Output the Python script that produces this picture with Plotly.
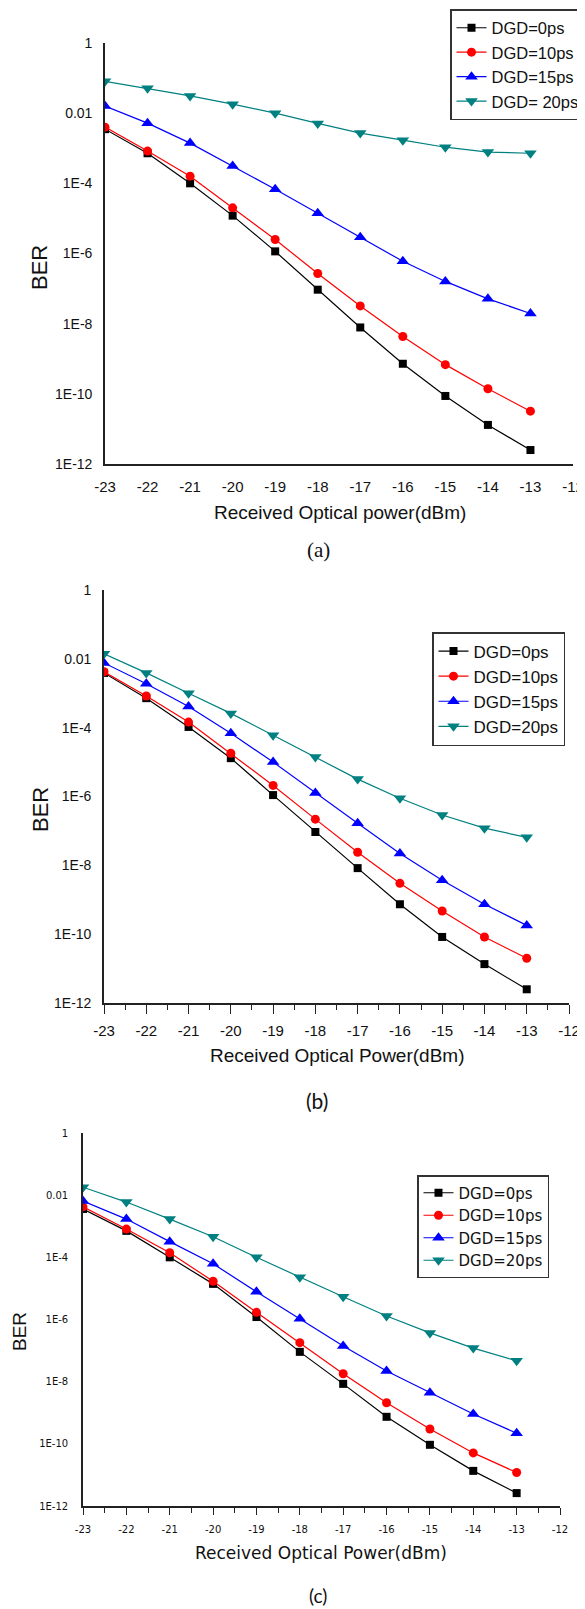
import plotly.graph_objects as go

power = [-23, -22, -21, -20, -19, -18, -17, -16, -15, -14, -13]

a_dgd0 = [3.5e-3, 7.2e-4, 1.0e-4, 1.2e-5, 1.15e-6, 9.3e-8, 7.8e-9, 7.2e-10, 8.7e-11, 1.3e-11, 2.5e-12]
a_dgd10 = [4.0e-3, 8.3e-4, 1.6e-4, 2.0e-5, 2.5e-6, 2.7e-7, 3.2e-8, 4.3e-9, 6.8e-10, 1.4e-10, 3.2e-11]
a_dgd15 = [1.6e-2, 5.2e-3, 1.4e-3, 3.1e-4, 6.8e-5, 1.4e-5, 2.9e-6, 6.0e-7, 1.6e-7, 5.1e-8, 1.95e-8]
a_dgd20 = [8.1e-2, 5.1e-2, 3.1e-2, 1.8e-2, 1.0e-2, 5.1e-3, 2.7e-3, 1.7e-3, 1.07e-3, 7.8e-4, 7.2e-4]

b_dgd0 = [3.9e-3, 7.2e-4, 1.05e-4, 1.3e-5, 1.1e-6, 9.3e-8, 8.3e-9, 7.4e-10, 8.3e-11, 1.35e-11, 2.5e-12]
b_dgd10 = [4.2e-3, 8.3e-4, 1.45e-4, 1.8e-5, 2.1e-6, 2.2e-7, 2.4e-8, 3.0e-9, 4.7e-10, 8.3e-11, 2.0e-11]
b_dgd15 = [7.6e-3, 1.9e-3, 4.1e-4, 6.9e-5, 1.0e-5, 1.26e-6, 1.66e-7, 2.2e-8, 3.7e-9, 7.4e-10, 1.8e-10]
b_dgd20 = [1.4e-2, 3.9e-3, 1.0e-3, 2.6e-4, 6.0e-5, 1.4e-5, 3.2e-6, 8.9e-7, 2.9e-7, 1.2e-7, 6.5e-8]

c_dgd0 = [3.6e-3, 7.1e-4, 1.0e-4, 1.4e-5, 1.2e-6, 9.1e-8, 8.5e-9, 7.4e-10, 9.3e-11, 1.35e-11, 2.6e-12]
c_dgd10 = [4.2e-3, 8.1e-4, 1.4e-4, 1.7e-5, 1.7e-6, 1.8e-7, 1.8e-8, 2.1e-9, 3.0e-10, 5.1e-11, 1.2e-11]
c_dgd15 = [6.5e-3, 1.7e-3, 3.2e-4, 6.2e-5, 7.8e-6, 1.05e-6, 1.4e-7, 2.2e-8, 4.4e-9, 9.1e-10, 2.2e-10]
c_dgd20 = [1.8e-2, 6.0e-3, 1.7e-3, 4.6e-4, 1.0e-4, 2.3e-5, 5.4e-6, 1.3e-6, 3.7e-7, 1.2e-7, 4.7e-8]

names_a = ["DGD=0ps", "DGD=10ps", "DGD=15ps", "DGD= 20ps"]
names_bc = ["DGD=0ps", "DGD=10ps", "DGD=15ps", "DGD=20ps"]

x_ticks = [-23, -22, -21, -20, -19, -18, -17, -16, -15, -14, -13, -12]
x_ticktext = [str(v) for v in x_ticks]
x_minor = [v + 0.5 for v in x_ticks[:-1]]
y_ticks = [1, 1e-2, 1e-4, 1e-6, 1e-8, 1e-10, 1e-12]
y_ticktext = ["1", "0.01", "1E-4", "1E-6", "1E-8", "1E-10", "1E-12"]

colors = ["#000000", "#FF0000", "#0000FF", "#008080"]
symbols = ["square", "circle", "triangle-up", "triangle-down"]
msizes = [8, 9, 11, 11]

# page has an 8px body margin; figure fills the rest of the 585x1609 window
OFF = 8
W, HH = 585 - OFF, 1609 - OFF

def py(p):
    return 1 - (p - OFF) / HH

def px(p):
    return (p - OFF) / W

fig = go.Figure()

panels = [
    ([a_dgd0, a_dgd10, a_dgd15, a_dgd20], names_a, "x", "y", "legend"),
    ([b_dgd0, b_dgd10, b_dgd15, b_dgd20], names_bc, "x2", "y2", "legend2"),
    ([c_dgd0, c_dgd10, c_dgd15, c_dgd20], names_bc, "x3", "y3", "legend3"),
]
for series, names, xa, ya, lg in panels:
    for i, vals in enumerate(series):
        fig.add_trace(go.Scatter(
            x=power, y=vals, mode="lines+markers", name=names[i],
            xaxis=xa, yaxis=ya, legend=lg,
            line=dict(color=colors[i], width=1.2),
            marker=dict(symbol=symbols[i], size=msizes[i], color=colors[i]),
        ))

sans = "Liberation Sans, Arial, sans-serif"
wide = "DejaVu Sans, Verdana, sans-serif"

dom = {
    "a": dict(x=(105, 573), y=(43, 464)),
    "b": dict(x=(104, 569), y=(590, 1003)),
    "c": dict(x=(83, 560), y=(1133, 1506)),
}

def xaxis(d, font, ticklen, standoff, anchor):
    ax = dict(
        domain=[px(d["x"][0]), px(d["x"][1])], range=[-23, -12],
        tickmode="array", tickvals=x_ticks, ticktext=x_ticktext,
        showline=True, linecolor="#222", linewidth=1.6, mirror=False,
        showgrid=False, zeroline=False, tickfont=font,
        ticklabelstandoff=standoff, anchor=anchor,
    )
    if ticklen:
        ax.update(ticks="outside", ticklen=ticklen, tickwidth=1.3, tickcolor="#222",
                  minor=dict(tickvals=x_minor, ticks="outside", ticklen=5,
                             tickwidth=1.3, tickcolor="#222", showgrid=False))
    else:
        ax.update(ticks="")
    return ax

def yaxis(d, font, anchor, standoff):
    return dict(
        domain=[py(d["y"][1]), py(d["y"][0])], type="log", range=[-12, 0],
        tickmode="array", tickvals=y_ticks, ticktext=y_ticktext,
        showline=True, linecolor="#222", linewidth=1.6, mirror=False,
        showgrid=False, zeroline=False, ticks="", tickfont=font,
        anchor=anchor, ticklabelstandoff=standoff,
    )

tick_ab = dict(family=sans, size=15, color="#111")
ytick_ab = dict(family=sans, size=14, color="#111")
tick_c = dict(family=wide, size=10, color="#111")

fig.update_layout(
    width=W, height=HH, autosize=False,
    margin=dict(l=0, r=0, t=0, b=0, autoexpand=False),
    paper_bgcolor="white", plot_bgcolor="white",
    xaxis=xaxis(dom["a"], tick_ab, 0, 8, "y"),
    yaxis=yaxis(dom["a"], ytick_ab, "x", 8),
    xaxis2=xaxis(dom["b"], tick_ab, 9, 4, "y2"),
    yaxis2=yaxis(dom["b"], ytick_ab, "x2", 8),
    xaxis3=xaxis(dom["c"], tick_c, 7, 6, "y3"),
    yaxis3=yaxis(dom["c"], tick_c, "x3", 11),
    legend=dict(x=px(450), y=py(9), xanchor="left", yanchor="top",
                bordercolor="#333", borderwidth=1.5, bgcolor="white",
                font=dict(family=sans, size=16.5, color="#111")),
    legend2=dict(x=px(432), y=py(632), xanchor="left", yanchor="top",
                 bordercolor="#333", borderwidth=1.5, bgcolor="white",
                 font=dict(family=sans, size=17, color="#111")),
    legend3=dict(x=px(417), y=py(1175), xanchor="left", yanchor="top",
                 bordercolor="#333", borderwidth=1.5, bgcolor="white",
                 font=dict(family=wide, size=15, color="#111")),
    showlegend=True,
)

annots = [
    dict(text="BER", x=px(39), y=py(268), font=dict(family=sans, size=22, color="#111"), textangle=-90),
    dict(text="Received Optical power(dBm)", x=px(340), y=py(513), font=dict(family=sans, size=19, color="#111")),
    dict(text="(a)", x=px(318), y=py(550), font=dict(family="Liberation Serif, Times New Roman, serif", size=21, color="#111")),
    dict(text="BER", x=px(40), y=py(810), font=dict(family=sans, size=22, color="#111"), textangle=-90),
    dict(text="Received Optical Power(dBm)", x=px(337), y=py(1055), font=dict(family=sans, size=19, color="#111")),
    dict(text="(b)", x=px(317), y=py(1100), font=dict(family="Lato, Open Sans, sans-serif", size=21, color="#111")),
    dict(text="BER", x=px(19), y=py(1332), font=dict(family=sans, size=19, color="#111"), textangle=-90),
    dict(text="Received Optical Power(dBm)", x=px(321), y=py(1553), font=dict(family=wide, size=17, color="#111")),
    dict(text="(c)", x=px(318), y=py(1595), font=dict(family="Lato, Open Sans, sans-serif", size=19, color="#111")),
]
for a in annots:
    a.update(xref="paper", yref="paper", showarrow=False, xanchor="center", yanchor="middle")
    fig.add_annotation(**a)

fig.write_html("out.html")
